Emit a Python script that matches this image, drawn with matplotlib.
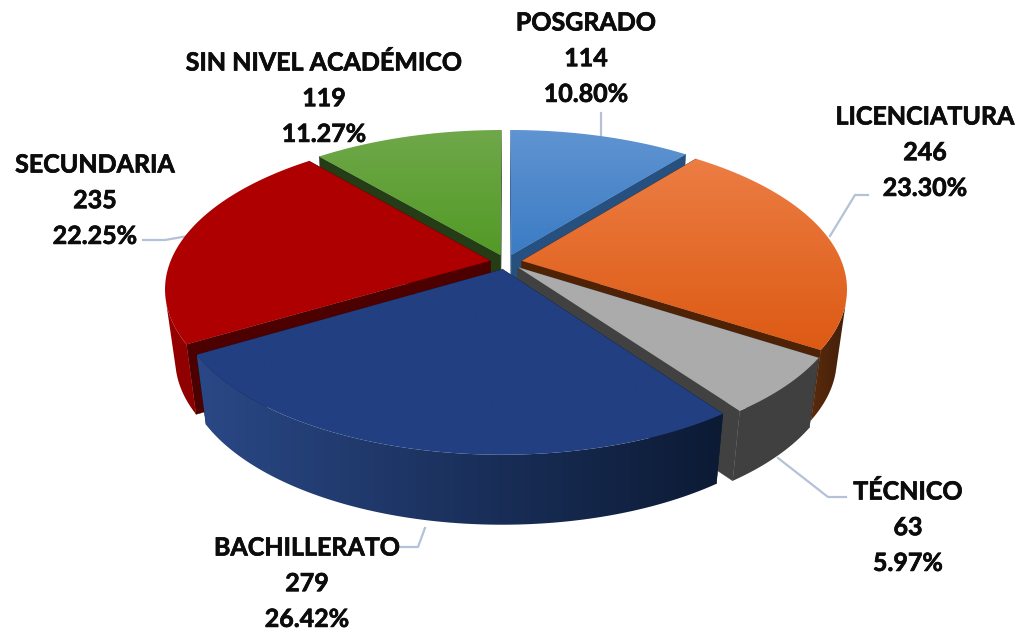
import numpy as np
import matplotlib
matplotlib.use("Agg")
import matplotlib.pyplot as plt
import matplotlib.patheffects as pe
from matplotlib.patches import Polygon
from matplotlib.colors import to_rgb

categories = ["POSGRADO", "LICENCIATURA", "TÉCNICO", "BACHILLERATO", "SECUNDARIA", "SIN NIVEL ACADÉMICO"]
counts = [114, 246, 63, 279, 235, 119]
percents = [10.80, 23.30, 5.97, 26.42, 22.25, 11.27]

# top face gradient (upper colour, lower colour)
top_colors = [("#6094d2", "#3b7cc4"), ("#ec7d43", "#dd5a14"), ("#ababab", "#ababab"),
              ("#223f82", "#223f82"), ("#ae0000", "#ae0000"), ("#6fa84a", "#539a26")]
# outer wall colours, left to right
side_colors = [("#2a5585", "#2a5585"), ("#5a2a0c", "#43200a"), ("#404040", "#404040"),
               ("#2a4886", "#0c1a34"), ("#980000", "#8c0000"), ("#2a4519", "#2a4519")]
cut_colors = ["#26507f", "#4f2206", "#414141", "#0d1b36", "#4c0000", "#243d16"]

# label centre x, first line y
label_pos = [(586, 23), (925, 117), (908, 492), (307, 548), (95, 165), (324, 63)]
# leader lines
leaders = [[(601, 113), (601, 136)],
           [(868, 195), (855, 195), (830, 236)],
           [(778, 458), (828, 497), (846, 497)],
           [(400, 547), (418, 547), (425, 528)],
           [(143, 240), (165, 240), (188, 236)]]

# projection of the tilted disc to pixels
cx, cy = 506, 262
R, A, k = 320, 149.5, 0.1776
explode = 0.05
depth = 70
shrink = 0.97


def project(x, y):
    w = 1 / (1 + k * y)
    return cx + R * x * w, cy - A * y * w


def lower(px, py):
    return cx + (px - cx) * shrink, py + depth


def mix(c1, c2, t):
    a, b = np.array(to_rgb(c1)), np.array(to_rgb(c2))
    return tuple(a + (b - a) * t)


def gradient_fill(verts, c0, c1, z, horizontal=False):
    # gradient image clipped by a polygon
    poly = Polygon(verts, fc="none", ec="none", zorder=z)
    ax.add_patch(poly)
    steps = [mix(c0, c1, t) for t in np.linspace(0, 1, 64)]
    grad = np.array([steps]) if horizontal else np.array([[s] for s in steps])
    xs = [v[0] for v in verts]
    ys = [v[1] for v in verts]
    im = ax.imshow(grad, extent=[min(xs), max(xs), max(ys), min(ys)], aspect="auto",
                   zorder=z, interpolation="bilinear")
    im.set_clip_path(poly)


fig = plt.figure(figsize=(10.18, 6.33), dpi=100)
ax = fig.add_axes([0, 0, 1, 1])

edges = np.cumsum([0] + percents) / sum(percents) * 2 * np.pi


def draw_slice(i, rank):
    a0, a1 = edges[i], edges[i + 1]
    mid = (a0 + a1) / 2
    ox, oy = explode * np.sin(mid), explode * np.cos(mid)
    th = np.linspace(a0, a1, 160)
    px, py = project(ox + np.sin(th), oy + np.cos(th))
    tipx, tipy = project(ox, oy)
    bx, by = lower(px, py)
    btx, bty = lower(tipx, tipy)

    # radial walls
    for j in (0, -1):
        ax.add_patch(Polygon([(tipx, tipy), (px[j], py[j]), (bx[j], by[j]), (btx, bty)],
                             fc=cut_colors[i], ec=cut_colors[i], lw=0.3, zorder=rank * 10 + 1))
    # outer wall, only the part of the arc that faces the viewer
    dx, dy = np.gradient(px), np.gradient(py)
    front = dx * (by - py) - dy * (bx - px) < 0
    if front.sum() > 1:
        wall = list(zip(px[front], py[front])) + list(zip(bx[front][::-1], by[front][::-1]))
        gradient_fill(wall, side_colors[i][0], side_colors[i][1], rank * 10 + 2, horizontal=True)
    # top face
    face = [(tipx, tipy)] + list(zip(px, py))
    gradient_fill(face, top_colors[i][0], top_colors[i][1], rank * 10 + 3)


# back to front
order = [5, 0, 4, 1, 2, 3]
for rank, i in enumerate(order):
    draw_slice(i, rank)

ax.set_xlim(0, 1018)
ax.set_ylim(633, 0)
ax.axis("off")

for line in leaders:
    xs, ys = zip(*line)
    ax.plot(xs, ys, color="#b5c1d6", lw=1.6, zorder=-1, solid_joinstyle="round")

for i, name in enumerate(categories):
    x, y = label_pos[i]
    lines = [name, str(counts[i]), "%.2f%%" % percents[i]]
    for n, s in enumerate(lines):
        ax.text(x, y + n * 35.7, s, ha="center", va="center", fontsize=18, fontweight="bold",
                family="Lato", color="#0c0c0c", zorder=200,
                path_effects=[pe.withStroke(linewidth=0.5, foreground="#0c0c0c")])

fig.savefig("out.png", dpi=100)
